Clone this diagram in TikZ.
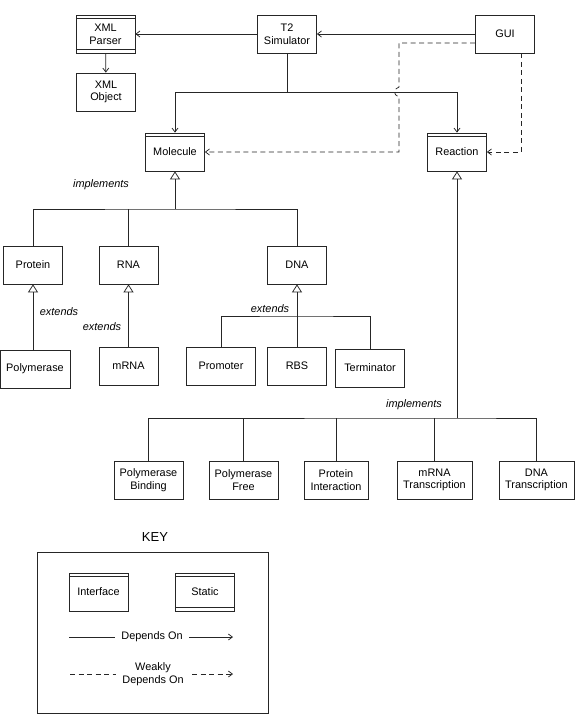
\documentclass[tikz,border=0pt]{standalone}
\usepackage{fontspec}
\setmainfont{Liberation Sans}
\usetikzlibrary{arrows.meta}
\tikzset{
  box/.style={draw, minimum width=59pt, minimum height=38pt, align=center, inner sep=1pt,
    font=\fontsize{10.9}{12.7}\selectfont},
  iface/.style={box, path picture={\draw ([yshift=-3.5pt]path picture bounding box.north west) -- ([yshift=-3.5pt]path picture bounding box.north east);}},
  static/.style={box, path picture={
    \draw ([yshift=-3.5pt]path picture bounding box.north west) -- ([yshift=-3.5pt]path picture bounding box.north east);
    \draw ([yshift=3.5pt]path picture bounding box.south west) -- ([yshift=3.5pt]path picture bounding box.south east);}},
  dep/.style={-{Straight Barb[length=4pt,width=6pt]}},
  weak/.style={dep, dash pattern=on 5pt off 3.5pt},
  inh/.style={-{Triangle[open,length=8pt,width=10pt]}},
  lbl/.style={font=\fontsize{10.9}{12.7}\selectfont\itshape},
}
\begin{document}
\begin{tikzpicture}[x=1pt, y={(0pt,-1pt)}, line width=0.75pt, draw=black!85]
  \useasboundingbox (0,0) rectangle (576,720);
  % top row
  \node[static] (xmlp) at (105.5,34) {XML\\Parser};
  \node[box] (xmlo) at (106,92) {XML\\Object};
  \node[box] (t2) at (287,34) {T2\\Simulator};
  \node[box] (gui) at (505,34) {GUI};
  \node[iface] (mol) at (175,152) {Molecule};
  \node[iface] (rea) at (457,152) {Reaction};
  % molecules
  \node[box] (prot) at (33,265) {Protein};
  \node[box] (rna) at (128.5,265) {RNA};
  \node[box] (dna) at (297,265) {DNA};
  \node[box, minimum width=70pt] (poly) at (35,369) {Polymerase};
  \node[box] (mrna) at (128.5,366) {mRNA};
  \node[box, minimum width=69pt] (prom) at (221,366) {Promoter};
  \node[box] (rbs) at (297,366) {RBS};
  \node[box, minimum width=69pt] (term) at (370,368) {Terminator};
  % reactions
  \node[box, minimum width=69pt] (pb) at (148.5,480) {Polymerase\\Binding};
  \node[box, minimum width=69pt] (pf) at (243.5,480) {Polymerase\\Free};
  \node[box, minimum width=64pt] (pi) at (336,480) {Protein\\Interaction};
  \node[box, minimum width=75pt] (mt) at (434.5,480) {mRNA\\Transcription};
  \node[box, minimum width=75pt] (dt) at (536.5,480) {DNA\\Transcription};

  \draw[dep] (t2) -- (xmlp);
  \draw[dep] (gui) -- (t2);
  \draw[dep] (xmlp) -- (xmlo);
  \coordinate (tbus) at (287,92);
  \draw (t2.south) -- (tbus);
  \draw[dep] (tbus) -| (mol.north);
  \draw[dep] (tbus) -| (rea.north);
  % weak links
  \draw[weak] ([yshift=-9pt]gui.west) -- (399,43) -- (399,87)
    .. controls (393,89) and (393,95) .. (399,97) -- (399,152) -- (mol.east);
  \draw[weak] ([xshift=16pt]gui.south) |- (rea.east);

  % implements (molecule)
  \coordinate (mbus) at (175,209);
  \draw[inh] (mbus) -- (mol.south);
  \draw (prot.north) |- (mbus) -| (dna.north);
  \draw (rna.north) -- (rna.north |- mbus);
  \node[lbl] at (101,185) {implements};
  % extends
  \draw[inh] (poly.north -| prot) -- (prot.south);
  \node[lbl] at (59,312) {extends};
  \draw[inh] (mrna.north) -- (rna.south);
  \node[lbl] at (102,327) {extends};
  \coordinate (dbus) at (297,316);
  \draw[inh] (rbs.north) -- (dna.south);
  \draw (prom.north) |- (dbus) -| (term.north);
  \node[lbl] at (270,309) {extends};

  % implements (reaction)
  \coordinate (rbus) at (457,418);
  \draw[inh] (rbus) -- (rea.south);
  \draw (pb.north) |- (rbus) -| (dt.north);
  \draw (pf.north) -- (pf.north |- rbus);
  \draw (pi.north) -- (pi.north |- rbus);
  \draw (mt.north) -- (mt.north |- rbus);
  \node[lbl] at (414,405) {implements};

  % key
  \node[font=\fontsize{13}{15}\selectfont] (key) at (155,537) {KEY};
  \draw[line width=1pt] (37,552) rectangle (268,713);
  \node[iface] (ki) at (98.5,592) {Interface};
  \node[static] (ks) at (205,592) {Static};
  \node[font=\fontsize{10.9}{12.7}\selectfont] (kd) at (152,637) {Depends On};
  \coordinate (kd1) at (69,637);
  \coordinate (kd2) at (233,637);
  \draw (kd1) -- (115,637);
  \draw[dep] (189,637) -- (kd2);
  \node[font=\fontsize{10.9}{12.7}\selectfont, align=center] (kw) at (153,674) {Weakly\\Depends On};
  \coordinate (kw1) at (70,674);
  \coordinate (kw2) at (233,674);
  \draw[dash pattern=on 5pt off 3.5pt] (kw1) -- (116,674);
  \draw[weak] (192,674) -- (kw2);
\end{tikzpicture}
\end{document}
